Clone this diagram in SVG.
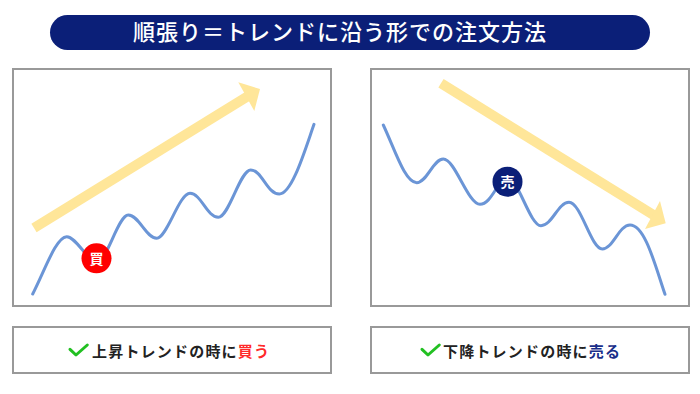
<svg xmlns="http://www.w3.org/2000/svg" width="700" height="394" viewBox="0 0 700 394">
<style>
.panel{fill:#fff;stroke:#999;stroke-width:2}
.curve{fill:none;stroke:#6b95d6;stroke-width:3;stroke-linecap:round;stroke-linejoin:round}
.arrowbody{stroke:#ffe699;stroke-width:10;fill:none}
.arrowhead{fill:#ffe699}
.title{font-family:"Noto Sans CJK JP","Noto Sans",sans-serif;font-size:22px;font-weight:500;fill:#fff;letter-spacing:1px}
.cap{font-family:"Noto Sans CJK JP","Noto Sans",sans-serif;font-size:15px;font-weight:700;fill:#222;letter-spacing:1.2px}
.badge{font-family:"Noto Sans CJK JP","Noto Sans",sans-serif;font-size:14px;font-weight:700;fill:#fff}
.check{fill:none;stroke:#22c022;stroke-width:3;stroke-linecap:round;stroke-linejoin:round}
</style>
<rect width="700" height="394" fill="#fff"/>
<g id="title">
<rect x="50" y="15" width="600" height="35" rx="17.5" fill="#0b1f78"/>
<text class="title" x="133" y="40">順張り＝トレンドに沿う形での注文方法</text>
</g>
<g id="panel-up">
<rect class="panel" x="13" y="69" width="318" height="237"/>
<line class="arrowbody" x1="34" y1="228" x2="249" y2="95.5"/>
<polygon class="arrowhead" points="260,89 238.3,82.3 254.3,111"/>
<path class="curve" d="M32.7,294 C45,270 56,237 66.7,236.7 C76,236.5 88,262 97,262 C107,262 118,215 128.3,215 C139,215 146,238.3 156.7,238.3 C167,238.3 179,193.3 190,193.3 C201,193.3 207,217.3 218.3,217.3 C229,217.3 240,170 250.7,170 C262,170 267,194 279.3,194 C292,194 305,150 314,124.3"/>
</g>
<g id="badge-buy">
<circle cx="96.5" cy="258.3" r="15" fill="#ff0000"/>
<text class="badge" x="96.5" y="263.5" text-anchor="middle">買</text>
</g>
<g id="panel-down">
<rect class="panel" x="371" y="69" width="318" height="237"/>
<line class="arrowbody" x1="441" y1="83.3" x2="653.5" y2="215"/>
<polygon class="arrowhead" points="665.7,223.3 660,201 645,229"/>
<path class="curve" d="M383.3,125 C395,150 405,182.7 416.7,182.7 C427,182.7 433,159 443.3,159 C455,159 468,204.3 480,204.3 C492,204.3 498,178 508,178 C518,178 530,225.7 541,225.7 C552,225.7 558,202.3 569,202.3 C581,202.3 591,249 602.3,249 C613,249 619,225 630,225 C645,225 655,265 665,294.3"/>
</g>
<g id="badge-sell">
<circle cx="507.5" cy="181.7" r="15" fill="#0b1f78"/>
<text class="badge" x="507.5" y="186.9" text-anchor="middle">売</text>
</g>
<g id="caption-up">
<rect class="panel" x="13" y="327" width="318" height="46"/>
<polyline class="check" points="70,349.3 76,355 87.3,345"/>
<text class="cap" x="92" y="356.5">上昇トレンドの時に<tspan fill="#ff2a2a">買う</tspan></text>
</g>
<g id="caption-down">
<rect class="panel" x="371" y="327" width="318" height="46"/>
<polyline class="check" points="422,349.3 428,355 439.3,345"/>
<text class="cap" x="443" y="356.5">下降トレンドの時に<tspan fill="#1a2f8a">売る</tspan></text>
</g>
<g id="connectors"/>
</svg>
